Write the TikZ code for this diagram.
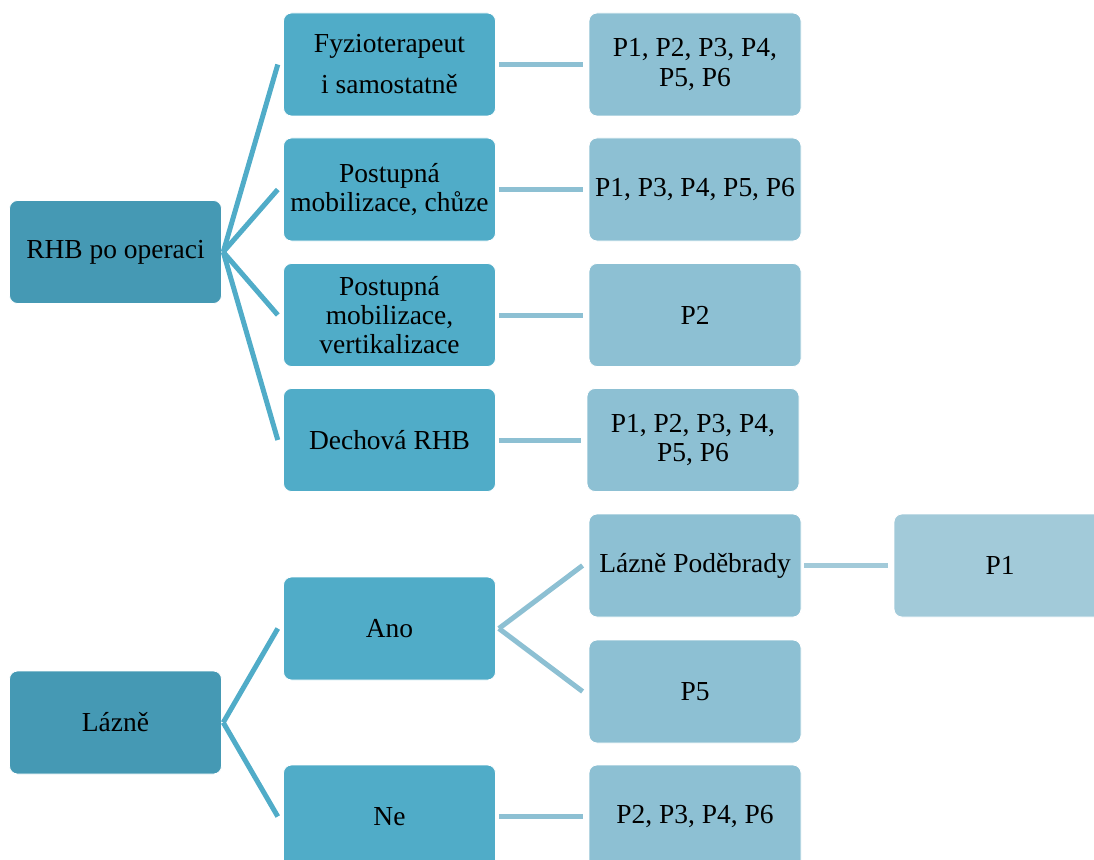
\documentclass[tikz,border=0pt]{standalone}
\usepackage{fontspec}
\setmainfont{Liberation Serif}
\definecolor{rootfill}{HTML}{4599B4}
\definecolor{midfill}{HTML}{50ACC8}
\definecolor{leaffill}{HTML}{8DC0D3}
\definecolor{farfill}{HTML}{A2CAD9}
\tikzset{
  box/.style={rectangle, rounded corners=6pt, draw=white, line width=0.6pt,
    minimum width=159pt, minimum height=77.25pt, inner sep=2pt,
    align=center, font=\fontsize{20.6}{21.8}\selectfont},
  rootbox/.style={box, fill=rootfill},
  midbox/.style={box, fill=midfill},
  leafbox/.style={box, fill=leaffill},
  farbox/.style={box, fill=farfill},
  link/.style={line width=3.75pt},
  midlink/.style={link, draw=midfill},
  leaflink/.style={link, draw=leaffill},
  farlink/.style={link, draw=farfill},
}
\begin{document}
\begin{tikzpicture}[x=0.75pt,y=-0.75pt]
\useasboundingbox (0,0) rectangle (1094,859);
\clip (0,0) rectangle (1094,859);

% first tree: rehabilitation after surgery
\node[rootbox] (rhb) at (115.5,252) {RHB po operaci};
\node[midbox] (fyz) at (389.5,64.5) {Fyzioterapeut\\[9pt] i samostatně};
\node[midbox] (chu) at (389.5,189.5) {Postupná\\mobilizace, chůze};
\node[midbox] (ver) at (389.5,315) {Postupná\\mobilizace,\\vertikalizace};
\node[midbox] (dech) at (389.5,440) {Dechová RHB};
\node[leafbox] (pfyz) at (695,64.5) {P1, P2, P3, P4,\\P5, P6};
\node[leafbox] (pchu) at (695,189.5) {P1, P3, P4, P5, P6};
\node[leafbox] (pver) at (695,315) {P2};
\node[leafbox] (pdech) at (693,440) {P1, P2, P3, P4,\\P5, P6};

% second tree: spa stay
\node[rootbox] (lazne) at (115.5,722.5) {Lázně};
\node[midbox] (ano) at (389.5,628.5) {Ano};
\node[midbox] (ne) at (389.5,816.5) {Ne};
\node[leafbox] (pod) at (695,565.5) {Lázně Poděbrady};
\node[leafbox] (pfive) at (695,691.5) {P5};
\node[leafbox] (pne) at (695,816.5) {P2, P3, P4, P6};
\node[farbox] (pone) at (1000,565.5) {P1};

% connectors
\foreach \c in {fyz,chu,ver,dech}
  \draw[midlink] ([xshift=1pt]rhb.east) -- ([xshift=-4pt]\c.west);
\foreach \c in {ano,ne}
  \draw[midlink] ([xshift=1pt]lazne.east) -- ([xshift=-4pt]\c.west);
\draw[leaflink] ([xshift=2.25pt]fyz.east) -- ([xshift=-4.5pt]pfyz.west);
\draw[leaflink] ([xshift=2.25pt]chu.east) -- ([xshift=-4.5pt]pchu.west);
\draw[leaflink] ([xshift=2.25pt]ver.east) -- ([xshift=-4.5pt]pver.west);
\draw[leaflink] ([xshift=2.25pt]dech.east) -- ([xshift=-4.5pt]pdech.west);
\draw[leaflink] ([xshift=2.25pt]ano.east) -- ([xshift=-4.5pt]pod.west);
\draw[leaflink] ([xshift=2.25pt]ano.east) -- ([xshift=-4.5pt]pfive.west);
\draw[leaflink] ([xshift=2.25pt]ne.east) -- ([xshift=-4.5pt]pne.west);
\draw[farlink] ([xshift=2.25pt]pod.east) -- ([xshift=-4.5pt]pone.west);
\end{tikzpicture}
\end{document}
